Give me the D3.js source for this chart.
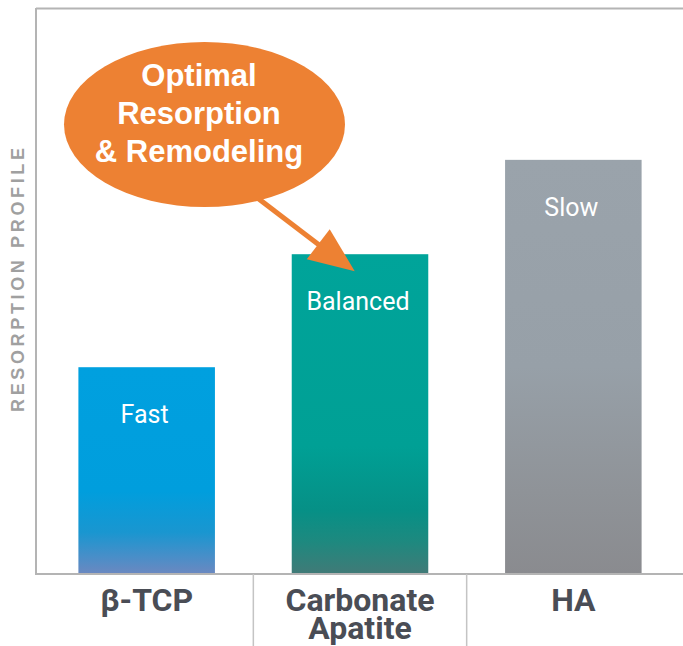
<!DOCTYPE html>
<html>
<head>
<meta charset="utf-8">
<script src="https://cdn.jsdelivr.net/npm/d3@7/dist/d3.min.js"></script>
<style>
  html, body { margin: 0; padding: 0; background: #fff; }
  svg { display: block; }
</style>
</head>
<body>
<svg id="chart" width="683" height="646"></svg>
<script>
// ---- data ----
const categories = ["β-TCP", "Carbonate Apatite", "HA"];
const categoryLines = [["β-TCP"], ["Carbonate", "Apatite"], ["HA"]];
const values = [36.6, 56.6, 73.3];
const barLabels = ["Fast", "Balanced", "Slow"];
const yAxisTitle = "RESORPTION PROFILE";
const calloutLines = ["Optimal", "Resorption", "& Remodeling"];
const calloutTarget = "Carbonate Apatite";

const W = 683, H = 646;
const margin = { left: 36, top: 8, right: 0, bottom: 72 };
const svg = d3.select("#chart");

const x = d3.scaleBand()
  .domain(categories)
  .range([40, 680])
  .paddingInner(0.36)
  .paddingOuter(0.18);

const y = d3.scaleLinear()
  .domain([0, 100])
  .range([574, 9]);

// gradients
const gradDefs = [
  { id: "g0", stops: [[0, "#00a0df"], [0.6, "#009edd"], [0.8, "#1a96d0"], [0.92, "#4a8ec8"], [1, "#6c88c0"]] },
  { id: "g1", stops: [[0, "#00a49a"], [0.6, "#00a095"], [0.8, "#069086"], [0.9, "#1e897f"], [1, "#417a77"]] },
  { id: "g2", stops: [[0, "#9aa3ab"], [0.5, "#97a0a8"], [0.8, "#8f9398"], [1, "#8a8b8f"]] }
];
const defs = svg.append("defs");
gradDefs.forEach(g => {
  const lg = defs.append("linearGradient").attr("id", g.id)
    .attr("x1", 0).attr("y1", 0).attr("x2", 0).attr("y2", 1);
  g.stops.forEach(s => lg.append("stop").attr("offset", s[0]).attr("stop-color", s[1]));
});

// frame: top line and left axis
svg.append("line").attr("x1", margin.left).attr("x2", W).attr("y1", 8.5).attr("y2", 8.5)
  .attr("stroke", "#b4b4b4").attr("stroke-width", 2);
svg.append("line").attr("x1", margin.left).attr("x2", margin.left).attr("y1", 8).attr("y2", y(0) + 1)
  .attr("stroke", "#b4b4b4").attr("stroke-width", 2);

// bars
svg.selectAll("rect.bar").data(categories).enter().append("rect")
  .attr("class", "bar")
  .attr("x", d => x(d))
  .attr("width", x.bandwidth())
  .attr("y", (d, i) => y(values[i]))
  .attr("height", (d, i) => y(0) - y(values[i]))
  .attr("fill", (d, i) => `url(#g${i})`);

// bar labels
svg.selectAll("text.blabel").data(categories).enter().append("text")
  .attr("class", "blabel")
  .attr("x", d => x(d) + x.bandwidth() / 2 - 2)
  .attr("y", (d, i) => y(values[i]) + 56)
  .attr("text-anchor", "middle")
  .attr("font-family", "Roboto, 'Liberation Sans', sans-serif")
  .attr("font-size", 25)
  .attr("fill", "#ffffff")
  .text((d, i) => barLabels[i]);

// bottom axis line
svg.append("line").attr("x1", margin.left - 1).attr("x2", W).attr("y1", y(0)).attr("y2", y(0))
  .attr("stroke", "#b4b4b4").attr("stroke-width", 2);

// dividers between categories
const dividers = categories.slice(1).map((c, i) => (x(categories[i]) + x.bandwidth() + x(c)) / 2);
svg.selectAll("line.div").data(dividers).enter().append("line")
  .attr("class", "div")
  .attr("x1", d => d).attr("x2", d => d)
  .attr("y1", y(0)).attr("y2", H)
  .attr("stroke", "#c4c4c4").attr("stroke-width", 1.5);

// category labels (one text per line)
const catRows = [];
categories.forEach((c, i) => categoryLines[i].forEach((ln, j) => catRows.push({ c, ln, j })));
svg.selectAll("text.cat").data(catRows).enter().append("text")
  .attr("class", "cat")
  .attr("x", d => x(d.c) + x.bandwidth() / 2)
  .attr("y", d => 611 + d.j * 28)
  .attr("text-anchor", "middle")
  .attr("font-family", "Roboto, 'Liberation Sans', sans-serif")
  .attr("font-weight", "bold")
  .attr("font-size", 32)
  .attr("fill", "#4a4d55")
  .text(d => d.ln);

// y axis title
svg.append("text")
  .attr("transform", `translate(24, ${(148 + 412) / 2}) rotate(-90)`)
  .attr("text-anchor", "middle")
  .attr("font-family", "'Liberation Sans', Arial, sans-serif")
  .attr("font-weight", "bold")
  .attr("font-size", 18)
  .attr("textLength", 264)
  .attr("lengthAdjust", "spacing")
  .attr("fill", "#a0a0a0")
  .text(yAxisTitle);

// callout arrow
const tx = x(calloutTarget) + 63;
const ty = y(values[1]) + 17;
const orange = "#ed8133";
svg.append("line")
  .attr("x1", 255).attr("y1", 196)
  .attr("x2", tx - 30).attr("y2", ty - 22)
  .attr("stroke", orange).attr("stroke-width", 5);
svg.append("path")
  .attr("d", `M${tx},${ty} L${tx - 48},${ty - 12} L${tx - 25},${ty - 42} Z`)
  .attr("fill", orange);

// callout ellipse
svg.append("ellipse")
  .attr("cx", 204.5).attr("cy", 124.5).attr("rx", 140.5).attr("ry", 82.5)
  .attr("fill", orange);
svg.selectAll("text.call").data(calloutLines).enter().append("text")
  .attr("class", "call")
  .attr("x", 199)
  .attr("y", (d, i) => 86 + i * 38)
  .attr("text-anchor", "middle")
  .attr("font-family", "'Liberation Sans', Arial, sans-serif")
  .attr("font-weight", "bold")
  .attr("font-size", 31)
  .attr("fill", "#ffffff")
  .text(d => d);
</script>
</body>
</html>
